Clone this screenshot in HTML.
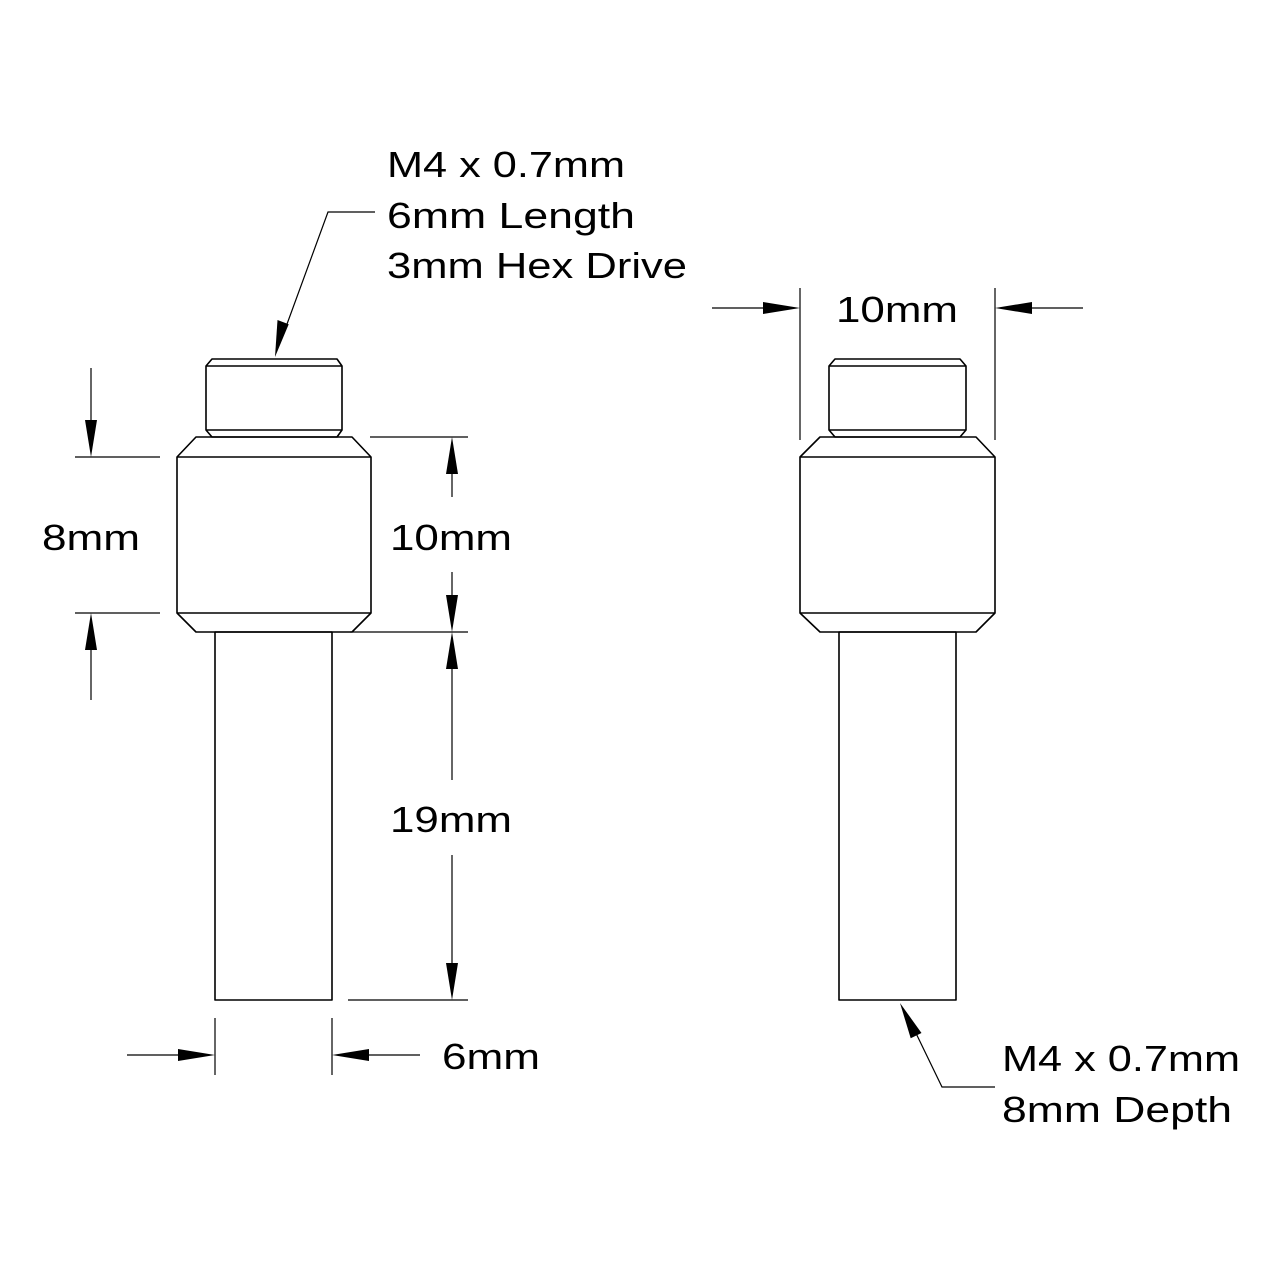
<!DOCTYPE html>
<html><head><meta charset="utf-8"><style>html,body{margin:0;padding:0;background:#fff}</style></head>
<body>
<svg width="1280" height="1280" viewBox="0 0 1280 1280" xmlns="http://www.w3.org/2000/svg">
<rect width="1280" height="1280" fill="#fff"/>
<g fill="none" stroke="#000" stroke-width="1.6" stroke-linejoin="round">
<!-- left part -->
<polygon points="212,359 337,359 342,366 342,430 337,437 212,437 206,430 206,366"/>
<line x1="206" y1="366" x2="342" y2="366"/>
<line x1="206" y1="430" x2="342" y2="430"/>
<polygon points="196,437 352,437 371,457 371,613 352,632 196,632 177,613 177,457"/>
<line x1="177" y1="457" x2="371" y2="457"/>
<line x1="177" y1="613" x2="371" y2="613"/>
<rect x="215" y="632" width="117" height="368"/>
<!-- right part -->
<polygon points="835,359 960,359 966,366 966,430 960,437 835,437 829,430 829,366"/>
<line x1="829" y1="366" x2="966" y2="366"/>
<line x1="829" y1="430" x2="966" y2="430"/>
<polygon points="820,437 976,437 995,457 995,613 976,632 820,632 800,613 800,457"/>
<line x1="800" y1="457" x2="995" y2="457"/>
<line x1="800" y1="613" x2="995" y2="613"/>
<rect x="839" y="632" width="117" height="368"/>
</g>
<g fill="none" stroke="#000" stroke-width="1.2">
<!-- 8mm -->
<line x1="75" y1="457" x2="160" y2="457"/>
<line x1="75" y1="613" x2="160" y2="613"/>
<line x1="91" y1="368" x2="91" y2="420"/>
<line x1="91" y1="650" x2="91" y2="700"/>
<!-- 10mm left -->
<line x1="370" y1="437" x2="468" y2="437"/>
<line x1="350" y1="632" x2="468" y2="632"/>
<line x1="452" y1="470" x2="452" y2="497"/>
<line x1="452" y1="572" x2="452" y2="600"/>
<!-- 19mm -->
<line x1="452" y1="665" x2="452" y2="780"/>
<line x1="452" y1="855" x2="452" y2="968"/>
<line x1="348" y1="1000" x2="468" y2="1000"/>
<!-- 6mm -->
<line x1="215" y1="1018" x2="215" y2="1075"/>
<line x1="332" y1="1018" x2="332" y2="1075"/>
<line x1="127" y1="1055" x2="180" y2="1055"/>
<line x1="368" y1="1055" x2="420" y2="1055"/>
<!-- 10mm right -->
<line x1="800" y1="288" x2="800" y2="440"/>
<line x1="995" y1="288" x2="995" y2="440"/>
<line x1="712" y1="308" x2="765" y2="308"/>
<line x1="1030" y1="308" x2="1083" y2="308"/>
<!-- leaders -->
<polyline points="375,212 328,212 283,335"/>
<polyline points="995,1087 942,1087 912,1025"/>
</g>
<g fill="#000" stroke="none">
<polygon points="91,457 85,420 97,420"/>
<polygon points="91,613 85,650 97,650"/>
<polygon points="452,437 446,474 458,474"/>
<polygon points="452,632 446,595 458,595"/>
<polygon points="452,632 446,669 458,669"/>
<polygon points="452,1000 446,963 458,963"/>
<polygon points="215,1055 178,1049 178,1061"/>
<polygon points="332,1055 369,1049 369,1061"/>
<polygon points="800,308 763,302 763,314"/>
<polygon points="995,308 1032,302 1032,314"/>
<polygon points="275,357 277.5,320 288.7,324.3"/>
<polygon points="900,1003 921.5,1033 910.7,1038.3"/>
</g>
<g font-family="'Liberation Sans', sans-serif" font-size="36" fill="#000">
<text x="387" y="177" textLength="238" lengthAdjust="spacingAndGlyphs">M4 x 0.7mm</text>
<text x="387" y="228" textLength="248" lengthAdjust="spacingAndGlyphs">6mm Length</text>
<text x="387" y="278" textLength="300" lengthAdjust="spacingAndGlyphs">3mm Hex Drive</text>
<text x="836" y="322" textLength="122" lengthAdjust="spacingAndGlyphs">10mm</text>
<text x="42" y="550" textLength="98" lengthAdjust="spacingAndGlyphs">8mm</text>
<text x="390" y="550" textLength="122" lengthAdjust="spacingAndGlyphs">10mm</text>
<text x="390" y="832" textLength="122" lengthAdjust="spacingAndGlyphs">19mm</text>
<text x="442" y="1069" textLength="98" lengthAdjust="spacingAndGlyphs">6mm</text>
<text x="1002" y="1071" textLength="238" lengthAdjust="spacingAndGlyphs">M4 x 0.7mm</text>
<text x="1002" y="1122" textLength="230" lengthAdjust="spacingAndGlyphs">8mm Depth</text>
</g>
</svg>
</body></html>
